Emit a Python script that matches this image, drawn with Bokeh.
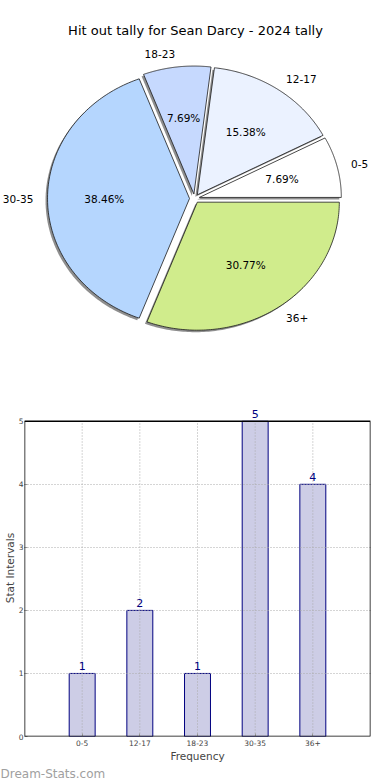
import numpy as np
from bokeh.plotting import figure
from bokeh.models import (ColumnDataSource, Label, LabelSet, Range1d, FactorRange,
                          FixedTicker, Title, BoxAnnotation)
from bokeh.layouts import column
from bokeh.embed import file_html
from bokeh.resources import INLINE
from bokeh.core.properties import value

# ---- data ----
title_text = "Hit out tally for Sean Darcy - 2024 tally"
categories = ["0-5", "12-17", "18-23", "30-35", "36+"]
counts = [1, 2, 1, 5, 4]
pie_colors = ["#ffffff", "#ebf2ff", "#c6d9fe", "#b5d6fe", "#d0ec8c"]
x_label = "Frequency"
y_label = "Stat Intervals"
y_ticks = [0, 1, 2, 3, 4, 5]
watermark = "Dream-Stats.com"

FONT = "DejaVu Sans"
W = 390
PIE_H = 390
BAR_H = 390
RX, RY = 142, 128        # pie radii in pixels
CX, CY = 194, 198        # pie centre in pixels
EXPLODE = 0.035

# ---- pie ----
pie = figure(width=W, height=PIE_H,
             x_range=Range1d(-CX / RX, (W - CX) / RX),
             y_range=Range1d(-(PIE_H - CY) / RY, CY / RY),
             x_axis_location=None, y_axis_location=None,
             output_backend="svg", toolbar_location=None, min_border=0)
pie.frame_align = False
pie.grid.visible = False
pie.outline_line_color = None

vals = np.array(counts, dtype=float)
fracs = vals / vals.sum()
ends = np.cumsum(fracs) * 2 * np.pi
starts = ends - fracs * 2 * np.pi
mids = (starts + ends) / 2

xs, ys, sxs, sys_ = [], [], [], []
sdx, sdy = -2.0 / RX, -2.0 / RY
for a0, a1, m in zip(starts, ends, mids):
    t = np.linspace(a0, a1, 120)
    ox, oy = EXPLODE * np.cos(m), EXPLODE * np.sin(m)
    px = np.concatenate([[ox], ox + np.cos(t)])
    py = np.concatenate([[oy], oy + np.sin(t)])
    xs.append(list(px)); ys.append(list(py))
    sxs.append(list(px + sdx)); sys_.append(list(py + sdy))

pie.patches(xs=sxs, ys=sys_, fill_color="#7a7a7a", fill_alpha=0.85, line_color=None)
pie.patches(xs=xs, ys=ys, fill_color=pie_colors, line_color="#1a1a1a", line_width=0.8)

cosm, sinm = np.cos(mids), np.sin(mids)
lx = (EXPLODE + 1.1) * cosm
ly = (EXPLODE + 1.1) * sinm
right_idx = [i for i in range(len(categories)) if cosm[i] > 0]
left_idx = [i for i in range(len(categories)) if cosm[i] <= 0]
for idx, align in ((right_idx, "left"), (left_idx, "right")):
    s = ColumnDataSource(dict(x=[lx[i] for i in idx], y=[ly[i] for i in idx],
                              text=[categories[i] for i in idx]))
    pie.add_layout(LabelSet(x="x", y="y", text="text", source=s, text_align=align,
                            text_baseline="middle", text_font=value(FONT),
                            text_font_size="10.5px", text_color="#000000"))
pct_src = ColumnDataSource(dict(
    x=(EXPLODE + 0.6) * cosm, y=(EXPLODE + 0.6) * sinm,
    text=["%.2f%%" % (f * 100) for f in fracs]))
pie.add_layout(LabelSet(x="x", y="y", text="text", source=pct_src, text_align="center",
                        text_baseline="middle", text_font=value(FONT),
                        text_font_size="10.5px", text_color="#000000"))

pie.add_layout(Label(x=195, y=PIE_H - 30, x_units="screen", y_units="screen",
                     text=title_text, text_align="center", text_baseline="middle",
                     text_font=FONT, text_font_size="13px", text_color="#000000"))

# ---- bar ----
y_max = max(y_ticks)
y_min = min(y_ticks)
y_top = y_max + 0.345        # head-room so the top value label is not clipped
bar = figure(width=W, height=BAR_H,
             x_range=FactorRange(factors=categories, range_padding=0.5, range_padding_units="absolute"),
             y_range=Range1d(y_min, y_top),
             output_backend="svg", toolbar_location=None,
             min_border_top=9, min_border_right=20, min_border_left=0, min_border_bottom=0)
bar.frame_align = False
bar.outline_line_color = None
src = ColumnDataSource(dict(cat=categories, val=counts, txt=[str(v) for v in counts],
                            y0=[y_min] * len(categories), y1=[y_max] * len(categories)))
bar.vbar(x="cat", top="val", width=0.45, source=src, fill_color="#cdcde6",
         line_color="#000080", line_width=1)
# vertical dotted grid drawn over the bars, limited to the axes box
bar.segment(x0="cat", y0="y0", x1="cat", y1="y1", source=src, line_color="#aaaaaa",
            line_dash="1 2", line_width=1)
bar.add_layout(LabelSet(x="cat", y="val", text="txt", source=src, text_align="center",
                        text_baseline="bottom", y_offset=3, text_color="#000080",
                        text_font=value(FONT), text_font_size="11px"))

for ax in (bar.xaxis[0], bar.yaxis[0]):
    ax.axis_line_color = None
    ax.major_tick_in = 3
    ax.major_tick_out = 0
    ax.major_tick_line_color = "#999999"
    ax.minor_tick_line_color = None
    ax.major_label_text_font = FONT
    ax.major_label_text_font_size = "7.5px"
    ax.axis_label_text_font = FONT
    ax.axis_label_text_font_size = "10.5px"
    ax.axis_label_text_font_style = "normal"
bar.xaxis.major_label_standoff = 3
bar.xaxis.axis_label_standoff = 1
bar.yaxis.major_label_standoff = 1
bar.yaxis.axis_label_standoff = 0
bar.yaxis.ticker = FixedTicker(ticks=y_ticks)
bar.xaxis.axis_label = x_label
bar.yaxis.axis_label = y_label
bar.xaxis.group_text_font_size = "7.5px"

bar.xgrid.visible = False
bar.ygrid.ticker = FixedTicker(ticks=[t for t in y_ticks if y_min < t < y_max])
bar.ygrid.grid_line_color = "#aaaaaa"
bar.ygrid.grid_line_dash = "1 2"
bar.ygrid.grid_line_width = 1
bar.ygrid.level = "overlay"

box = BoxAnnotation(bottom=y_min, top=y_max, fill_alpha=0, line_color="#000000",
                    line_width=1.5, line_alpha=1)
box.level = "overlay"
bar.add_layout(box)

bar.add_layout(Title(text=watermark, align="left", offset=-24, standoff=0,
                     text_font=FONT, text_font_size="12px", text_font_style="normal",
                     text_color="#a0a0a0"), "below")

layout = column(pie, bar, spacing=0)
open("out.html", "w").write(file_html(layout, INLINE))
